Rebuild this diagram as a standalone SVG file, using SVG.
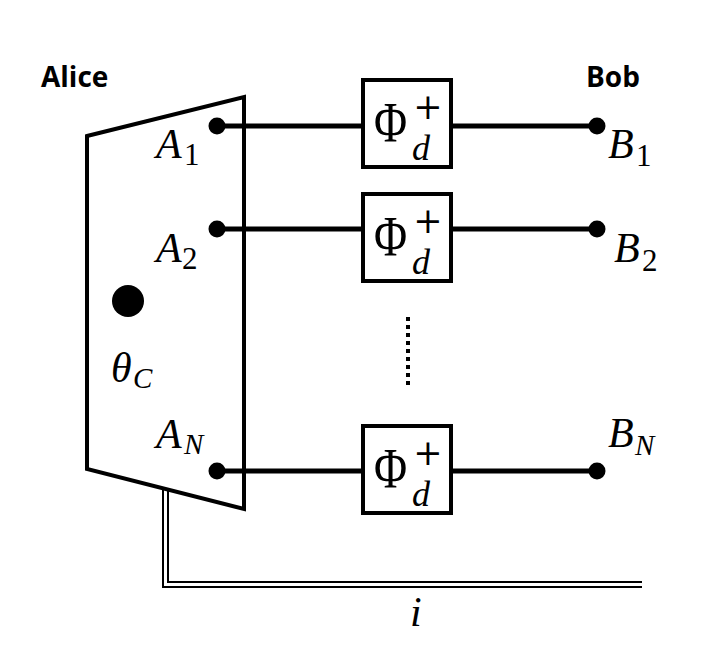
<svg xmlns="http://www.w3.org/2000/svg" width="720" height="648" viewBox="0 0 720 648">
<style>
.ln{stroke:#000;stroke-width:5;fill:none}
.bx{stroke:#000;stroke-width:4;fill:#fff}
.dot{fill:#000}
.m{font-family:"Liberation Serif","Times New Roman",serif;font-style:italic;fill:#000}
.big{font-size:42px}
.sub{font-size:29px}
.num{font-family:"Liberation Serif","Times New Roman",serif;font-size:31px;fill:#000}
.phi{font-family:"Liberation Serif","Times New Roman",serif;font-size:58px;fill:#000}
.plus{font-family:"DejaVu Serif",serif;font-size:35px;fill:#000}
.dd{font-family:"Liberation Serif",serif;font-style:italic;font-size:36px;fill:#000}
.nm{font-family:"Open Sans","Liberation Sans",sans-serif;font-weight:bold;font-size:28px;fill:#000}
</style>
<rect width="720" height="648" fill="#fff"/>
<g id="classical">
<path d="M165.5 480 V584.5 H642" fill="none" stroke="#000" stroke-width="7"/>
<path d="M165.5 470 V584.5 H643" fill="none" stroke="#fff" stroke-width="3"/>
</g>
<g id="alice">
<polygon points="87,136 244,97 244,509 87,469" fill="#fff" stroke="#000" stroke-width="4" stroke-linejoin="miter"/>
<circle cx="128" cy="301" r="16" class="dot"/>
<text class="m big" x="111" y="382">θ</text><text class="m sub" x="133" y="388">C</text>
<text class="nm" x="41" y="87">Alice</text>
</g>
<g id="connectors">
<line class="ln" x1="217" y1="126" x2="597" y2="126"/>
<line class="ln" x1="217" y1="229" x2="597" y2="229"/>
<line class="ln" x1="217" y1="471" x2="597" y2="471"/>
<line x1="408" y1="317" x2="408" y2="388" stroke="#000" stroke-width="4" stroke-dasharray="4 4"/>
</g>
<g id="a1"><circle cx="217" cy="126" r="8.5" class="dot"/><text class="m big" x="156" y="158">A</text><text class="num" x="184" y="165">1</text></g>
<g id="a2"><circle cx="217" cy="229" r="8.5" class="dot"/><text class="m big" x="156" y="262">A</text><text class="num" x="182" y="269">2</text></g>
<g id="an"><circle cx="217" cy="471" r="8.5" class="dot"/><text class="m big" x="156" y="448">A</text><text class="m sub" x="184" y="454">N</text></g>
<g id="b1"><circle cx="597" cy="126" r="8.5" class="dot"/><text class="m big" x="608" y="158">B</text><text class="num" x="636" y="166">1</text></g>
<g id="b2"><circle cx="597" cy="229" r="8.5" class="dot"/><text class="m big" x="614" y="262">B</text><text class="num" x="642" y="271">2</text></g>
<g id="bn"><circle cx="597" cy="471" r="8.5" class="dot"/><text class="m big" x="608" y="447">B</text><text class="m sub" x="635" y="455">N</text></g>
<g id="box1">
<rect class="bx" x="363" y="80" width="88" height="87"/>
<text class="phi" text-anchor="middle" transform="translate(390.5,142) scale(0.78,1)">Φ</text>
<text class="plus" text-anchor="middle" x="428" y="119">+</text>
<text class="dd" x="412" y="159.5">d</text>
</g>
<g id="box2">
<rect class="bx" x="363" y="194" width="88" height="87"/>
<text class="phi" text-anchor="middle" transform="translate(390.5,256) scale(0.78,1)">Φ</text>
<text class="plus" text-anchor="middle" x="428" y="233">+</text>
<text class="dd" x="412" y="273.5">d</text>
</g>
<g id="boxn">
<rect class="bx" x="363" y="426" width="88" height="87"/>
<text class="phi" text-anchor="middle" transform="translate(390.5,488) scale(0.78,1)">Φ</text>
<text class="plus" text-anchor="middle" x="428" y="465">+</text>
<text class="dd" x="412" y="505.5">d</text>
</g>
<g id="bob"><text class="nm" x="586" y="87">Bob</text></g>
<g id="ilabel"><text class="m big" x="410" y="626">i</text></g>
</svg>
